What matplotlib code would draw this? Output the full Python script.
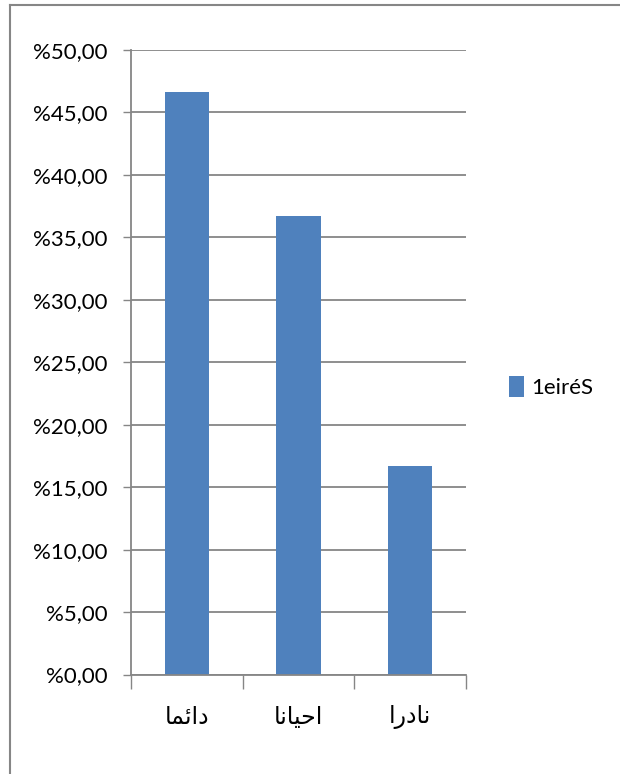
import matplotlib.pyplot as plt
from matplotlib.lines import Line2D
import numpy as np

# survey answers (Arabic, pre-shaped presentation forms in visual order) and their shares in %
categories = ['ﺎﻤﺋﺍﺩ', 'ﺎﻧﺎﻴﺣﺍ', 'ﺍﺭﺩﺎﻧ']   # دائما / احيانا / نادرا
shares = [46.67, 36.67, 16.67]
series_name = '1eiréS'
yticks = [0, 5, 10, 15, 20, 25, 30, 35, 40, 45, 50]

bar_colour = '#4F81BD'
grey = '#868686'
fs = 16

plt.rcParams['font.family'] = ['Lato', 'DejaVu Sans']

fig = plt.figure(figsize=(6.2, 7.74), dpi=100)
ax = fig.add_axes([131/620, 99.5/774, 335/620, 624.5/774])

x = np.arange(len(categories)) + 0.5
ax.bar(x, shares, width=0.4, color=bar_colour, label=series_name, zorder=3)

ax.set_xlim(0, len(categories))
ax.set_ylim(0, 50)

# y axis: percentage labels written the Excel way (%45,00)
ax.set_yticks(yticks)
ax.set_yticklabels([f'%{v:.2f}'.replace('.', ',') for v in yticks], fontsize=fs)
ax.yaxis.grid(True, color=grey, lw=1.3, zorder=0)
ax.tick_params(axis='y', length=6, width=1, color=grey, pad=11)

# x axis: ticks on category boundaries, labels in the middle
ax.set_xticks(np.arange(len(categories) + 1))
ax.set_xticklabels([])
ax.set_xticks(x, minor=True)
ax.set_xticklabels(categories, minor=True, fontsize=17, family=['DejaVu Sans'])
ax.tick_params(axis='x', which='major', length=10, width=1, color=grey)
ax.tick_params(axis='x', which='minor', length=0, pad=22)

for side in ['top', 'right']:
    ax.spines[side].set_visible(False)
for side in ['left', 'bottom']:
    ax.spines[side].set_color(grey)
    ax.spines[side].set_linewidth(1.3)
    ax.spines[side].set_zorder(4)

ax.legend(loc='center left', bbox_to_anchor=(509/620, 387/774), bbox_transform=fig.transFigure,
          frameon=False, fontsize=fs, handlelength=0.68, handleheight=1.1,
          handletextpad=0.32, borderpad=0, borderaxespad=0)

# chart area frame (top and left edges)
fig.add_artist(Line2D([9.5/620, 1], [1 - 4.5/774] * 2, transform=fig.transFigure, color=grey, lw=1.5))
fig.add_artist(Line2D([9.5/620] * 2, [0, 1 - 4.5/774], transform=fig.transFigure, color=grey, lw=1.5))

plt.savefig('out.png', dpi=100)
